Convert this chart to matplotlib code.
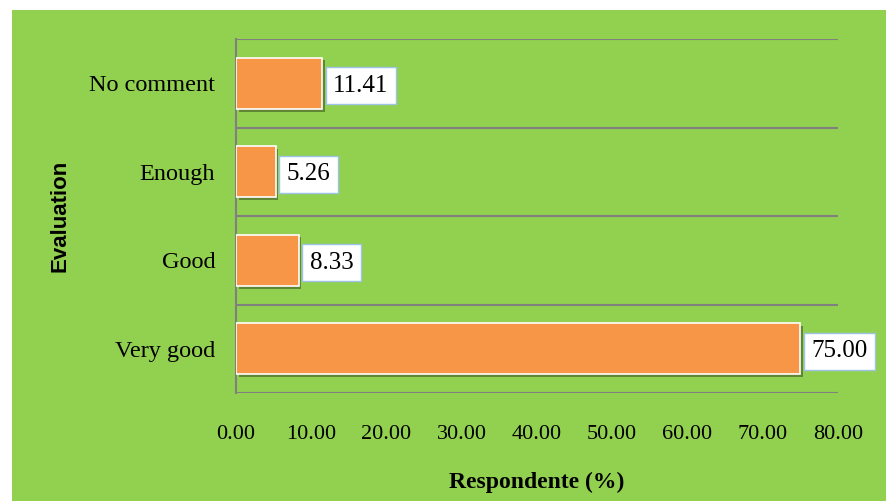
import matplotlib
matplotlib.use('Agg')
import matplotlib.pyplot as plt
import matplotlib.patheffects as pe
from matplotlib.patches import Rectangle

categories = ["Very good", "Good", "Enough", "No comment"]
values = [75.00, 8.33, 5.26, 11.41]
xticks = [0, 10, 20, 30, 40, 50, 60, 70, 80]

green = "#92D050"
orange = "#F79646"
grid_gray = "#808080"

fig = plt.figure(figsize=(8.87, 5.01), dpi=100)
fig.patches.append(Rectangle((12 / 887, 0), 1, 1 - 10 / 501, transform=fig.transFigure,
                             facecolor=green, edgecolor="none", zorder=-1))

ax = fig.add_axes([236 / 887, 1 - 393 / 501, (838 - 236) / 887, (393 - 39) / 501])
ax.set_facecolor("none")

pos = list(range(len(categories)))
bars = ax.barh(pos, values, height=0.58, color=orange, edgecolor="white", linewidth=1.2, zorder=3)
for b in bars:
    b.set_path_effects([pe.SimplePatchShadow(offset=(2, -2), shadow_rgbFace="black", alpha=0.35), pe.Normal()])

for p, v in zip(pos, values):
    ax.text(v + 1.5, p, f"{v:.2f}", va="center_baseline", ha="left", fontsize=18,
            family="Liberation Serif", zorder=4,
            bbox=dict(boxstyle="square,pad=0.3", facecolor="white", edgecolor="#9DC3E6", linewidth=1))

ax.set_xlim(0, 80)
ax.set_ylim(-0.5, len(categories) - 0.5)
ax.set_xticks(xticks)
ax.set_xticklabels([f"{t:.2f}" for t in xticks], family="Liberation Serif", fontsize=16)
ax.set_yticks(pos)
ax.set_yticklabels(categories, family="Liberation Serif", fontsize=17.5)
ax.set_yticks([p - 0.5 for p in pos] + [len(categories) - 0.5], minor=True)
ax.grid(True, which="minor", axis="y", color=grid_gray, linewidth=1.5, zorder=1)
ax.tick_params(axis="both", which="both", length=0)
ax.tick_params(axis="x", pad=23)
ax.tick_params(axis="y", pad=15)

for s in ["top", "right", "bottom"]:
    ax.spines[s].set_visible(False)
ax.spines["left"].set_color(grid_gray)
ax.spines["left"].set_linewidth(1.5)

ax.set_xlabel("Respondente (%)", family="Liberation Serif", fontsize=17, fontweight="bold", labelpad=20)
fig.text(60 / 887, 1 - 216 / 501, "Evaluation", rotation=90, ha="center", va="center",
         family="Liberation Sans", fontsize=16, fontweight="bold")

fig.savefig("out.png", dpi=100)
